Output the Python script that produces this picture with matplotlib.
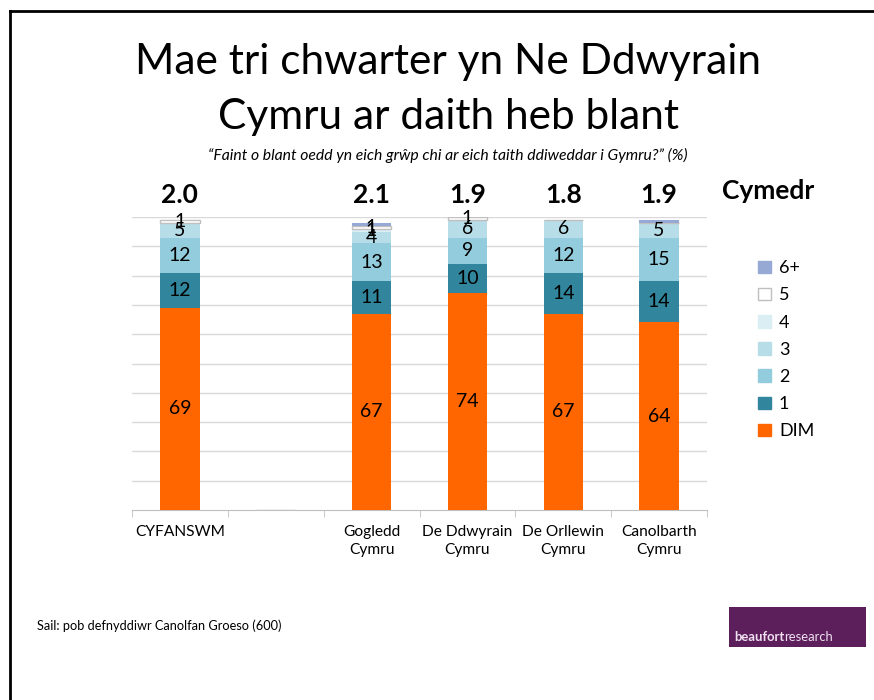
import matplotlib.pyplot as plt
import matplotlib.patches as mpatches
import numpy as np

plt.rcParams['font.family'] = ['Lato', 'DejaVu Sans']

categories = ['CYFANSWM', '', 'Gogledd\nCymru', 'De Ddwyrain\nCymru', 'De Orllewin\nCymru', 'Canolbarth\nCymru']
means = ['2.0', '', '2.1', '1.9', '1.8', '1.9']

series_names = ['DIM', '1', '2', '3', '4', '5', '6+']
dim = [69, 0, 67, 74, 67, 64]
one = [12, 0, 11, 10, 14, 14]
two = [12, 0, 13, 9, 12, 15]
three = [5, 0, 4, 6, 6, 5]
four = [0, 0, 1, 0, 0, 0]
five = [1, 0, 1, 1, 0, 0]
six_plus = [0, 0, 1, 0, 0, 1]

colors = ['#FF6600', '#31859C', '#93CDDD', '#B7DEE8', '#DAEEF3', '#FFFFFF', '#95A9D4']
edges = ['none', 'none', 'none', 'none', 'none', '#BFBFBF', 'none']
show_labels = [True, True, True, True, True, True, False]

fig = plt.figure(figsize=(8.74, 7), dpi=100)
ax = fig.add_axes([132 / 874, 1 - 510 / 700, (707 - 132) / 874, (510 - 217) / 700])

x = np.arange(len(categories))
data = [dim, one, two, three, four, five, six_plus]
bottom = np.zeros(len(categories))
for vals, col, ec, lab in zip(data, colors, edges, show_labels):
    vals = np.array(vals, dtype=float)
    ax.bar(x, vals, 0.41, bottom=bottom, color=col, edgecolor=ec, linewidth=1, zorder=3)
    if lab:
        for xi, v, b in zip(x, vals, bottom):
            if v > 0:
                ax.text(xi, b + v / 2, f'{int(v)}', ha='center', va='center', fontsize=14, zorder=4)
    bottom += vals

for xi, m in zip(x, means):
    ax.text(xi, 103.3, m, ha='center', va='bottom', fontsize=19, fontweight='bold', clip_on=False)

ax.set_xlim(-0.5, len(categories) - 0.5)
ax.set_ylim(0, 100)
ax.set_yticks(np.arange(10, 101, 10))
ax.yaxis.grid(True, color='#D9D9D9', linewidth=1, zorder=0)
ax.tick_params(axis='y', left=False, labelleft=False)
for s in ['left', 'right', 'top']:
    ax.spines[s].set_visible(False)
ax.spines['bottom'].set_color('#BFBFBF')
ax.set_xticks(x)
ax.set_xticklabels(categories, fontsize=11.2, linespacing=1.3)
ax.set_xticks(np.arange(-0.5, len(categories), 1), minor=True)
ax.tick_params(axis='x', which='major', length=0, pad=11)
ax.tick_params(axis='x', which='minor', length=5, color='#BFBFBF')

# legend
handles = [mpatches.Patch(facecolor=c, edgecolor=(e if e != 'none' else c), label=n)
           for n, c, e in zip(series_names, colors, edges)][::-1]
fig.legend(handles=handles, loc='upper left', bbox_to_anchor=(742 / 874, 1 - 244 / 700),
           frameon=False, fontsize=13, handlelength=0.7, handleheight=0.7,
           labelspacing=0.62, handletextpad=0.45)

fig.text(722 / 874, 1 - 191 / 700, 'Cymedr', fontsize=19, fontweight='bold', va='center')

# titles
fig.text(448 / 874, 1 - 62 / 700, 'Mae tri chwarter yn Ne Ddwyrain', fontsize=30.5, ha='center', va='center')
fig.text(448 / 874, 1 - 117 / 700, 'Cymru ar daith heb blant', fontsize=30.5, ha='center', va='center')
fig.text(448 / 874, 1 - 155 / 700, '\u201cFaint o blant oedd yn eich grŵp chi ar eich taith ddiweddar i Gymru?\u201d (%)',
         fontsize=11.3, style='italic', ha='center', va='center')

fig.text(37 / 874, 1 - 626 / 700, 'Sail: pob defnyddiwr Canolfan Groeso (600)', fontsize=9.2, va='center')

# logo
fig.patches.append(mpatches.Rectangle((729 / 874, 1 - 647 / 700), 137 / 874, 40 / 700,
                                      transform=fig.transFigure, facecolor='#5C1F5C', edgecolor='none'))
t1 = fig.text(734 / 874, 1 - 637 / 700, 'beaufort', fontsize=9.4, fontweight='bold', color='#F0E0F0', va='center')
renderer = fig.canvas.get_renderer()
bb = t1.get_window_extent(renderer)
fig.text(bb.x1 / fig.bbox.width, 1 - 637 / 700, 'research', fontsize=9.4, color='#F0E0F0', va='center')

# slide frame
fig.add_artist(plt.Line2D([10 / 874, 10 / 874], [0, 1 - 11 / 700], transform=fig.transFigure, color='black', linewidth=2))
fig.add_artist(plt.Line2D([10 / 874, 1], [1 - 11 / 700, 1 - 11 / 700], transform=fig.transFigure, color='black', linewidth=2))

fig.savefig('out.png', dpi=100)
